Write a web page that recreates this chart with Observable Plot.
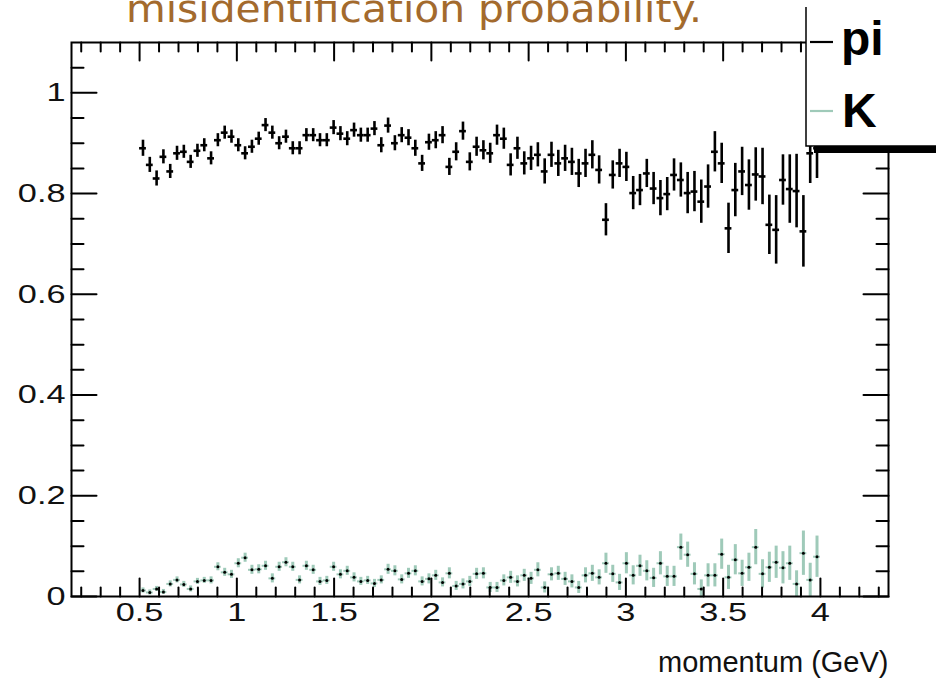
<!DOCTYPE html>
<html><head><meta charset="utf-8">
<script src="https://cdn.jsdelivr.net/npm/d3@7"></script>
<script src="https://cdn.jsdelivr.net/npm/@observablehq/plot@0.6"></script>
<style>html,body{margin:0;padding:0;background:#fff;} #chart{position:relative;width:936px;height:692px;overflow:hidden;}</style>
</head><body><div id="chart"></div>
<script>
// histogram binning (momentum, GeV)
const momentumRange = [0.5, 4.0];
const binCount = 100;

// pi misidentification probability per bin
const piVal = [
0.890,0.857,0.830,0.873,0.844,0.880,0.883,0.863,0.885,0.896,
0.870,0.906,0.921,0.913,0.896,0.880,0.893,0.909,0.936,0.921,
0.900,0.913,0.890,0.890,0.916,0.916,0.906,0.906,0.931,0.919,
0.909,0.926,0.916,0.916,0.929,0.896,0.935,0.900,0.916,0.911,
0.890,0.860,0.902,0.906,0.916,0.853,0.883,0.924,0.863,0.893,
0.886,0.880,0.916,0.909,0.857,0.890,0.860,0.870,0.877,0.844,
0.877,0.860,0.870,0.863,0.840,0.860,0.877,0.847,0.748,0.837,
0.860,0.853,0.801,0.807,0.840,0.810,0.791,0.799,0.837,0.827,
0.801,0.804,0.784,0.814,0.883,0.860,0.731,0.807,0.844,0.817,
0.838,0.834,0.738,0.728,0.827,0.809,0.805,0.725,0.880,0.890];
const piErr = [
0.016,0.015,0.015,0.014,0.014,0.014,0.013,0.013,0.013,0.013,
0.013,0.013,0.013,0.013,0.013,0.013,0.013,0.013,0.013,0.013,
0.013,0.013,0.013,0.013,0.013,0.013,0.013,0.013,0.014,0.014,
0.014,0.014,0.014,0.014,0.014,0.015,0.015,0.015,0.015,0.016,
0.016,0.016,0.016,0.017,0.017,0.017,0.018,0.018,0.018,0.019,
0.019,0.020,0.020,0.021,0.022,0.022,0.023,0.024,0.024,0.025,
0.025,0.026,0.026,0.027,0.028,0.028,0.028,0.028,0.032,0.028,
0.028,0.029,0.033,0.031,0.028,0.032,0.035,0.033,0.032,0.034,
0.041,0.040,0.043,0.043,0.040,0.040,0.050,0.053,0.048,0.050,
0.053,0.056,0.059,0.068,0.050,0.068,0.073,0.071,0.060,0.060];

// K misidentification probability per bin
const kVal = [
0.012,0.008,0.015,0.009,0.025,0.033,0.024,0.015,0.030,0.032,
0.032,0.059,0.048,0.044,0.066,0.077,0.053,0.054,0.061,0.036,
0.059,0.068,0.059,0.033,0.061,0.053,0.030,0.032,0.059,0.044,
0.051,0.038,0.030,0.032,0.026,0.033,0.054,0.051,0.034,0.046,
0.051,0.030,0.035,0.042,0.028,0.046,0.021,0.025,0.030,0.045,
0.046,0.018,0.018,0.032,0.038,0.030,0.042,0.036,0.053,0.018,
0.044,0.046,0.035,0.030,0.018,0.042,0.046,0.038,0.066,0.045,
0.028,0.066,0.042,0.061,0.051,0.037,0.066,0.040,0.040,0.098,
0.083,0.045,0.015,0.042,0.042,0.084,0.038,0.073,0.046,0.058,
0.098,0.045,0.058,0.068,0.057,0.066,0.025,0.086,0.033,0.079];
const kErr = [
0.005,0.005,0.005,0.005,0.006,0.006,0.006,0.006,0.006,0.006,
0.007,0.008,0.008,0.008,0.009,0.009,0.009,0.009,0.009,0.009,
0.009,0.009,0.009,0.008,0.009,0.009,0.008,0.008,0.009,0.009,
0.009,0.009,0.008,0.008,0.008,0.008,0.010,0.010,0.009,0.010,
0.010,0.009,0.010,0.010,0.009,0.011,0.009,0.010,0.010,0.011,
0.011,0.010,0.010,0.011,0.012,0.011,0.012,0.012,0.014,0.011,
0.013,0.014,0.013,0.013,0.012,0.015,0.016,0.015,0.020,0.017,
0.016,0.021,0.019,0.021,0.020,0.019,0.023,0.020,0.020,0.026,
0.025,0.022,0.018,0.023,0.023,0.030,0.024,0.030,0.026,0.028,
0.035,0.028,0.030,0.032,0.032,0.034,0.026,0.044,0.033,0.041];

const xTickLabels = [0.5, 1, 1.5, 2, 2.5, 3, 3.5, 4];
const yTickLabels = [0, 0.2, 0.4, 0.6, 0.8, 1];
const xMinorTicks = d3.range(2, 44).filter(i => i % 5 !== 0).map(i => i / 10);
const yMinorTicks = d3.range(1, 22).filter(i => i % 4 !== 0).map(i => i / 20);
const seriesNames = ["pi", "K"];
const seriesColors = ["#000000", "#9fcab9"];

const binWidth = (momentumRange[1] - momentumRange[0]) / binCount;
const center = i => momentumRange[0] + (i + 0.5) * binWidth;
const pi = piVal.map((v, i) => ({x: center(i), y: v, e: piErr[i]}));
const K = kVal.map((v, i) => ({x: center(i), y: v, e: kErr[i]}));

const tickShape = (dx, dy) => ({draw(ctx, l) { ctx.moveTo(0, 0); ctx.lineTo(dx * l, dy * l); }});
const tickOpts = {stroke: "black", strokeWidth: 2, anchor: "start"};

const plot = Plot.plot({
  width: 936, height: 692,
  marginLeft: 71, marginRight: 48, marginTop: 42, marginBottom: 96,
  style: {fontFamily: "'Liberation Sans', Arial, sans-serif", background: "white", color: "black"},
  x: {domain: [0.15, 4.35], axis: null, label: null},
  y: {domain: [0, 1.1], axis: null, label: null},
  marks: [
    // K series
    Plot.ruleX(K, {x: "x", y1: d => d.y - d.e, y2: d => d.y + d.e, stroke: seriesColors[1], strokeWidth: 3}),
    Plot.ruleY(K, {y: "y", x1: d => d.x - binWidth / 2, x2: d => d.x + binWidth / 2, stroke: seriesColors[1], strokeWidth: 2}),
    Plot.dot(K, {x: "x", y: "y", r: 1.5, fill: "black"}),
    // pi series
    Plot.ruleX(pi, {x: "x", y1: d => d.y - d.e, y2: d => d.y + d.e, stroke: seriesColors[0], strokeWidth: 2.6}),
    Plot.ruleY(pi, {y: "y", x1: d => d.x - binWidth / 2, x2: d => d.x + binWidth / 2, stroke: seriesColors[0], strokeWidth: 2.6}),
    // inward ticks on all four sides
    Plot.vector(xTickLabels, {x: d => d, frameAnchor: "bottom", length: 18, shape: tickShape(0, -1), ...tickOpts}),
    Plot.vector(xMinorTicks, {x: d => d, frameAnchor: "bottom", length: 9, shape: tickShape(0, -1), ...tickOpts}),
    Plot.vector(xTickLabels, {x: d => d, frameAnchor: "top", length: 18, shape: tickShape(0, 1), ...tickOpts}),
    Plot.vector(xMinorTicks, {x: d => d, frameAnchor: "top", length: 9, shape: tickShape(0, 1), ...tickOpts}),
    Plot.vector(yTickLabels, {y: d => d, frameAnchor: "left", length: 25, shape: tickShape(1, 0), ...tickOpts}),
    Plot.vector(yMinorTicks, {y: d => d, frameAnchor: "left", length: 12, shape: tickShape(1, 0), ...tickOpts}),
    Plot.vector(yTickLabels, {y: d => d, frameAnchor: "right", length: 25, shape: tickShape(-1, 0), ...tickOpts}),
    Plot.vector(yMinorTicks, {y: d => d, frameAnchor: "right", length: 12, shape: tickShape(-1, 0), ...tickOpts}),
    Plot.frame({stroke: "black", strokeWidth: 2}),
    Plot.axisX(xTickLabels, {anchor: "bottom", tickSize: 0, tickPadding: 6, fontSize: 26, label: null, tickFormat: d => String(d), fill: "#111"}),
    Plot.axisY(yTickLabels, {anchor: "left", tickSize: 0, tickPadding: 6, fontSize: 26, label: null, tickFormat: d => String(d), fill: "#111"}),
    Plot.text(["momentum (GeV)"], {frameAnchor: "bottom-right", dy: 66, text: d => d, textAnchor: "end", lineAnchor: "middle", fontSize: 29, fill: "#111"})
  ]
});

document.getElementById("chart").appendChild(plot);
const svg = d3.select(plot);

// widen tick labels like the reference
svg.selectAll('g[aria-label="x-axis tick label"] text, g[aria-label="y-axis tick label"] text').each(function() {
  const t = this.getAttribute("transform");
  if (t) this.setAttribute("transform", t + " scale(1.32,1)");
  else {
    const x = +this.getAttribute("x") || 0, y = +this.getAttribute("y") || 0;
    this.removeAttribute("x"); this.removeAttribute("y");
    this.setAttribute("transform", `translate(${x},${y}) scale(1.32,1)`);
  }
});

// legend box (top right)
const lg = svg.append("g").attr("text-anchor", "start");
lg.append("rect").attr("x", 814).attr("y", 146).attr("width", 140).attr("height", 7).attr("fill", "black");
lg.append("rect").attr("x", 806).attr("y", -10).attr("width", 150).attr("height", 156).attr("fill", "white");
lg.append("path").attr("d", "M806,7V146H936").attr("fill", "none").attr("stroke", "black").attr("stroke-width", 1.5);
const legendRows = [{y: 42, base: 55, x: 841}, {y: 111, base: 127, x: 842}];
seriesNames.forEach((name, i) => {
  lg.append("line").attr("x1", 810).attr("x2", 833).attr("y1", legendRows[i].y).attr("y2", legendRows[i].y)
    .attr("stroke", seriesColors[i]).attr("stroke-width", 2.2);
  lg.append("text").attr("x", legendRows[i].x).attr("y", legendRows[i].base).text(name)
    .attr("text-anchor", "start")
    .attr("font-family", "'Liberation Sans', Arial, sans-serif").attr("font-weight", "bold")
    .attr("font-size", 48).attr("fill", "black");
});

// slide title (cut off at the top)
svg.append("text").attr("x", 126).attr("y", 22).text("misidentification probability.")
  .attr("text-anchor", "start")
  .attr("font-family", "'DejaVu Sans Condensed', 'DejaVu Sans', sans-serif")
  .attr("font-size", 37).attr("fill", "#a36a2d")
  .attr("textLength", 576).attr("lengthAdjust", "spacingAndGlyphs");
</script>
</body></html>
